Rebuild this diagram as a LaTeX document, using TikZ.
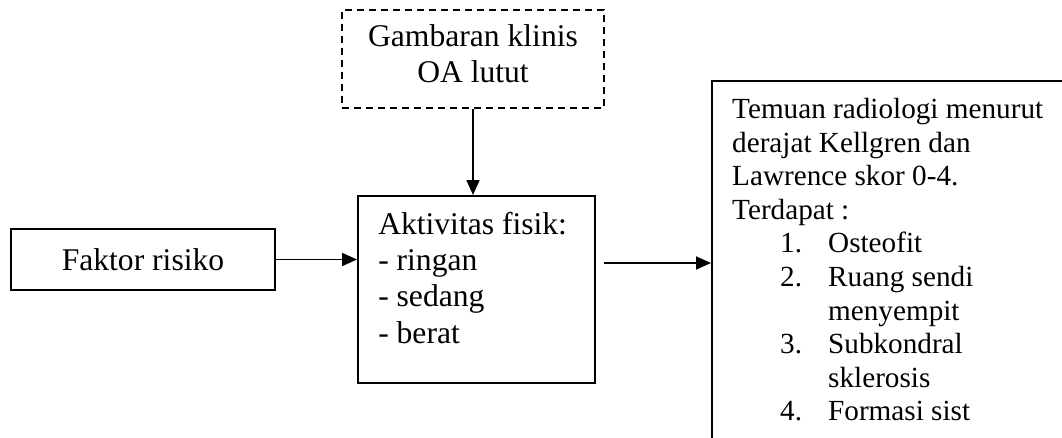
\documentclass[tikz,border=0pt]{standalone}
\usepackage{fontspec}
\setmainfont{Liberation Serif}
\usetikzlibrary{arrows.meta,positioning}
\tikzset{
  ar/.style={-{Triangle[length=15pt,width=13pt]},line width=1.7pt},
  box/.style={draw,line width=1.9pt,inner sep=0pt},
  dbox/.style={box,dash pattern=on 7pt off 5pt},
  txt/.style={font=\fontsize{29.2}{33.6}\selectfont},
  bigtxt/.style={font=\fontsize{31.6}{36.4}\selectfont}
}

\begin{document}
\begin{tikzpicture}[x=1pt,y=-1pt,every node/.style={txt}]
\useasboundingbox (0,0) rectangle (1062,438);
\clip (0,0) rectangle (1062,438);
% boxes
\node[box,bigtxt,minimum width=264pt,minimum height=61pt] (faktor) at (143,259.5) {Faktor risiko};
\node[box,minimum width=237pt,minimum height=187pt] (aktivitas) at (476.5,289.5) {};
\node[dbox,minimum width=262pt,minimum height=98pt] (gambaran) at (473,59) {};
\node[box,minimum width=420pt,minimum height=420pt,anchor=north west] (temuan) at (711,80) {};
% texts
\node[bigtxt,align=left,anchor=north west,inner sep=0pt] (aktivitastxt) at ([shift={(21,16.5)}]aktivitas.north west)
  {Aktivitas fisik:\\- ringan\\- sedang\\- berat};
\node[bigtxt,align=center,anchor=north,inner sep=0pt] (gambarantxt) at ([shift={(0,15.4)}]gambaran.north)
  {Gambaran klinis\\OA lutut};
\node[align=left,anchor=north west,inner sep=0pt] (temuantxt) at ([shift={(21,18)}]temuan.north west)
  {Temuan radiologi menurut\\derajat Kellgren dan\\Lawrence skor 0-4.\\Terdapat :\\
   \hspace*{48pt}\makebox[48pt][l]{1.}Osteofit\\
   \hspace*{48pt}\makebox[48pt][l]{2.}Ruang sendi\\
   \hspace*{96pt}menyempit\\
   \hspace*{48pt}\makebox[48pt][l]{3.}Subkondral\\
   \hspace*{96pt}sklerosis\\
   \hspace*{48pt}\makebox[48pt][l]{4.}Formasi sist};
% arrows
\draw[ar] (faktor.east) -- (faktor.east -| aktivitas.west);
\draw[ar] (gambaran.south) -- (gambaran.south |- aktivitas.north);
\coordinate (akout) at ([shift={(8,-26.5)}]aktivitas.east);
\draw[ar] (akout) -- (akout -| temuan.west);
\end{tikzpicture}
\end{document}
